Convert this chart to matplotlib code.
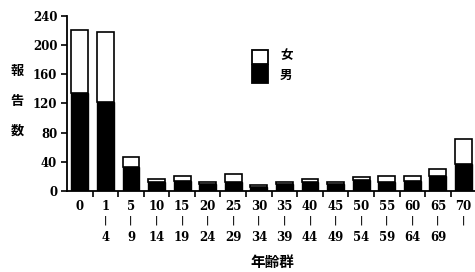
import numpy as np
import matplotlib
matplotlib.use("Agg")
import matplotlib.pyplot as plt
from matplotlib.patches import Rectangle

# age groups and report counts
age_start = ["0", "1", "5", "10", "15", "20", "25", "30", "35", "40",
             "45", "50", "55", "60", "65", "70"]
age_end = ["", "4", "9", "14", "19", "24", "29", "34", "39", "44",
           "49", "54", "59", "64", "69", ""]
total = [221, 218, 46, 16, 21, 13, 23, 8, 13, 16, 13, 19, 21, 20, 30, 71]
male = [134, 122, 33, 12, 14, 9, 12, 5, 10, 12, 10, 15, 13, 14, 21, 37]
female = [t - m for t, m in zip(total, male)]
yticks = [0, 40, 80, 120, 160, 200, 240]

num_font = "DejaVu Serif"
cjk = ["Noto Sans CJK JP", "DejaVu Sans"]
px = 72 / 100  # points per pixel

fig = plt.figure(figsize=(4.75, 2.72), dpi=100)
ax = fig.add_axes([67 / 475, 1 - 191 / 272, 1 - 67 / 475, (191 - 15.7) / 272])

x = np.arange(len(total))
w = 0.66
ax.bar(x, male, width=w, color="black", edgecolor="black", linewidth=1.0)
ax.bar(x, female, bottom=male, width=w, color="white", edgecolor="black", linewidth=1.2)

ax.set_xlim(-0.5, 15.45)
ax.set_ylim(0, 240)
for s in ["top", "right"]:
    ax.spines[s].set_visible(False)
for s in ["left", "bottom"]:
    ax.spines[s].set_linewidth(1.3)

ax.set_yticks(yticks)
ax.set_yticklabels([str(v) for v in yticks], fontfamily=num_font, fontweight="bold", fontsize=8.5)
ax.tick_params(axis="y", length=4, width=1.2, pad=3)

# tick marks between bars, labels under each bar
ax.set_xticks(x[:-1] + 0.5)
ax.set_xticklabels([])
ax.tick_params(axis="x", length=4, width=1.2)
for i in x:
    ax.annotate(age_start[i], (i, 0), xycoords=("data", "axes fraction"),
                xytext=(0, -16 * px), textcoords="offset points", ha="center", va="center",
                fontfamily=num_font, fontweight="bold", fontsize=8.5, annotation_clip=False)
    if i > 0:
        ax.annotate("|", (i, 0), xycoords=("data", "axes fraction"),
                    xytext=(0, -29.5 * px), textcoords="offset points", ha="center", va="center",
                    fontfamily=num_font, fontweight="bold", fontsize=6.5, annotation_clip=False)
    if age_end[i]:
        ax.annotate(age_end[i], (i, 0), xycoords=("data", "axes fraction"),
                    xytext=(0, -47 * px), textcoords="offset points", ha="center", va="center",
                    fontfamily=num_font, fontweight="bold", fontsize=8.5, annotation_clip=False)

fig.text(272 / 475, 1 - 262 / 272, "年齢群", ha="center", va="center",
         family=cjk, fontweight="bold", fontsize=10.5)
fig.text(17 / 475, 1 - 101 / 272, "報\n告\n数", ha="center", va="center",
         family=cjk, fontweight="bold", fontsize=9.5, linespacing=2.45)

# legend: stacked boxes
bx, bw = 252, 16
fig.patches.append(Rectangle((bx / 475, 1 - 64.5 / 272), bw / 475, 14 / 272,
                             transform=fig.transFigure, facecolor="white",
                             edgecolor="black", linewidth=1.3))
fig.patches.append(Rectangle((bx / 475, 1 - 83 / 272), bw / 475, 18.5 / 272,
                             transform=fig.transFigure, facecolor="black",
                             edgecolor="black", linewidth=1.3))
fig.text(280 / 475, 1 - 56 / 272, "女", ha="left", va="center", family=cjk,
         fontweight="bold", fontsize=9)
fig.text(280 / 475, 1 - 75 / 272, "男", ha="left", va="center", family=cjk,
         fontweight="bold", fontsize=9)

fig.savefig("out.png", dpi=100, facecolor="white")
